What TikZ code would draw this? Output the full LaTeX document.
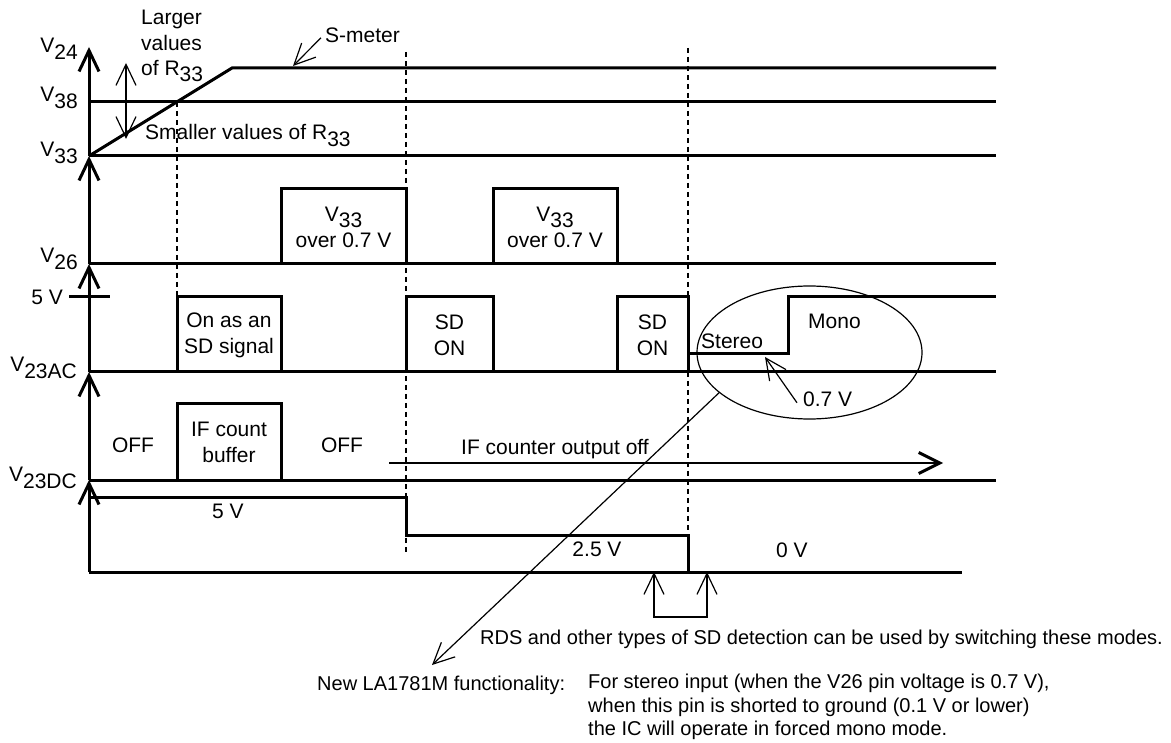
\documentclass[tikz,border=0pt]{standalone}
\usepackage{fontspec}
\setmainfont{Liberation Sans}
\usetikzlibrary{arrows.meta,shapes.geometric}
\newcommand{\dsub}[1]{\raisebox{-0.3em}{#1}}
\begin{document}
\begin{tikzpicture}[x=1pt,y=-1pt,
  every node/.style={font=\fontsize{21}{25.5}\selectfont, inner sep=0pt},
  note/.style={font=\fontsize{20}{23.5}\selectfont},
  sig/.style={line width=3pt},
  thinline/.style={line width=1.2pt},
  guide/.style={line width=1.2pt, dash pattern=on 5pt off 4pt},
  barb/.tip={Straight Barb[length=21pt,width=20pt]},
  axtip/.style={-barb, line width=3pt},
  ptr/.style={-barb, line width=1.2pt},
  lbl/.style={anchor=base east},
]
\useasboundingbox (0,0) rectangle (1171,743);

% axis coordinates
\coordinate (a0) at (89,572);
\coordinate (a1) at (89,480);
\coordinate (a2) at (89,372);
\coordinate (a3) at (89,264);
\coordinate (a4) at (89,156);
\coordinate (a5) at (89,47);

% guides (dashed)
\draw[guide] (177,102) -- (177,297);
\draw[guide] (406,52) -- (406,552);
\draw[guide] (688,48) -- (688,535);

% axis with arrow marks
\draw[axtip] (a0) -- (a1);
\draw[axtip] (a1) -- (a2);
\draw[axtip] (a2) -- (a3);
\draw[axtip] (a3) -- (a4);
\draw[axtip] (a4) -- (a5);

% S-meter, V38, V33
\draw[sig] (a4) -- (232,68) -- (996,68);
\draw[sig] (89,102) -- (996,102);
\draw[sig] (a4) -- (996,156);

% V26 row
\draw[sig] (a3) -- (996,264);
\draw[sig] (281,264) -- (281,189) -- (406,189) -- (406,264);
\draw[sig] (493,264) -- (493,189) -- (617,189) -- (617,264);

% 5 V tick
\draw[sig] (69,297) -- (110,297);

% V23AC row
\draw[sig] (a2) -- (996,372);
\draw[sig] (177,372) -- (177,297) -- (281,297) -- (281,372);
\draw[sig] (406,372) -- (406,297) -- (493,297) -- (493,372);
\draw[sig] (617,372) -- (617,297) -- (688,297) -- (688,372);
\draw[sig] (688,354) -- (788,354) -- (788,297) -- (996,297);

% V23DC row
\draw[sig] (a1) -- (996,480);
\draw[sig] (177,480) -- (177,404) -- (281,404) -- (281,480);

% DC level waveform
\draw[sig] (89,497) -- (406,497) -- (406,535) -- (688,535) -- (688,572);
\draw[sig] (a0) -- (962,572);

% IF counter output off arrow
\draw[line width=2.2pt, -{Straight Barb[length=21pt,width=21pt,line width=3pt]}] (389,463) -- (943,463);

% labels on axis
\node[lbl] (lv24) at (78,53) {V\dsub{24}};
\node[lbl] (lv38) at (78,102) {V\dsub{38}};
\node[lbl] (lv33) at (78,157) {V\dsub{33}};
\node[lbl] (lv26) at (78,263) {V\dsub{26}};
\node[lbl] (lv23ac) at (77,372) {V\dsub{23AC}};
\node[lbl] (lv23dc) at (77,482) {V\dsub{23DC}};
\node[lbl] (l5v) at (63,305) {5 V};

% R33 annotation
\node[anchor=north west, align=left] (larger) at (141,10) {Larger\\values\\of R\dsub{33}};
\node[anchor=base west] (smaller) at (145,140) {Smaller values of R\dsub{33}};
\draw[thinline, barb-barb] (126,63) -- (126,139);

% S-meter
\node[anchor=base west] (smeter) at (325,43) {S-meter};
\coordinate (smtip) at (293,66);
\draw[ptr] ([xshift=-4pt,yshift=-2pt]smeter.west) -- (smtip);

% box texts
\node[anchor=north, align=center] (b1) at (343.5,207) {V\dsub{33}\\over 0.7 V};
\node[anchor=north, align=center] (b2) at (555,207) {V\dsub{33}\\over 0.7 V};
\node[anchor=north, align=center] (sdsig) at (229,313) {On as an\\SD signal};
\node[anchor=north, align=center] (sd1) at (449.5,315) {SD\\ON};
\node[anchor=north, align=center] (sd2) at (652.5,315) {SD\\ON};
\node[anchor=base west] (stereo) at (701,349) {Stereo};
\node[anchor=base west] (mono) at (808,329) {Mono};
\node[anchor=base west] (v07) at (803,407) {0.7 V};
\coordinate (v07tip) at (765,357);
\draw[ptr] ([xshift=-6pt,yshift=-3pt]v07.west) -- (v07tip);

\node[anchor=base] (off1) at (133,453) {OFF};
\node[anchor=north, align=center] (ifbuf) at (229,422) {IF count\\buffer};
\node[anchor=base] (off2) at (342,453) {OFF};
\node[anchor=base west] (ifoff) at (461,455) {IF counter output off};
\node[anchor=base] (v5) at (228,518) {5 V};
\node[anchor=base] (v25) at (597,556) {2.5 V};
\node[anchor=base] (v0) at (792,557) {0 V};

% ellipse
\node[draw, thinline, ellipse, minimum width=225pt, minimum height=133pt] (ell) at (809.5,352.5) {};

% bracket arrows
\draw[thinline, barb-barb] (654,572) -- (654,617) -- (707,617) -- (707,572);

% notes
\node[note, anchor=base west] (rds) at (480,644) {RDS and other types of SD detection can be used by switching these modes.};
\node[note, anchor=base west] (newf) at (317,690) {New LA1781M functionality:};
\node[note, anchor=north west, align=left] (desc) at (588,674) {For stereo input (when the V26 pin voltage is 0.7 V),\\when this pin is shorted to ground (0.1 V or lower)\\the IC will operate in forced mono mode.};
\coordinate (newtip) at (432,665);
\draw[ptr] (ell.204) -- (newtip);
\end{tikzpicture}
\end{document}
